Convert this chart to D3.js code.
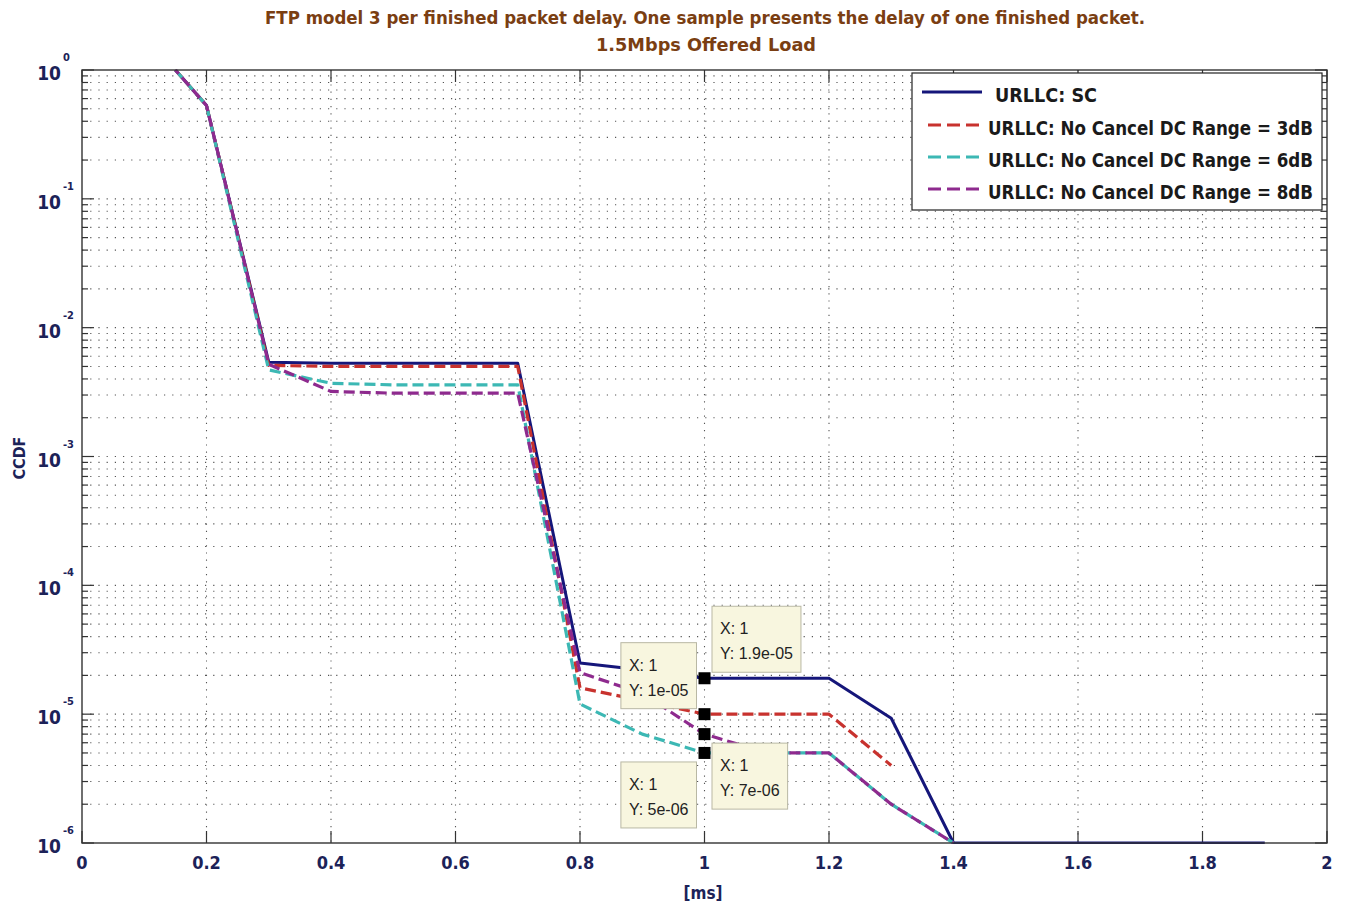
<!DOCTYPE html>
<html>
<head>
<meta charset="utf-8">
<script src="https://cdn.jsdelivr.net/npm/d3@7"></script>
<style>
  html, body { margin: 0; padding: 0; background: #ffffff; }
  svg { display: block; }
  .bold { font-family: "Liberation Sans Narrow", "DejaVu Sans Condensed", "Liberation Sans", Arial, sans-serif; font-weight: bold; }
  .tip { font-family: "Liberation Sans", Arial, sans-serif; }
</style>
</head>
<body>
<svg id="chart" width="1345" height="905"></svg>
<script>
// Packet delay [ms] sample points for each curve
const delaySC  = [0.15, 0.2, 0.3, 0.4, 0.5, 0.6, 0.7, 0.8, 0.9, 1.0, 1.1, 1.2, 1.3, 1.4, 1.5, 1.6, 1.7, 1.8, 1.9];
const delay3dB = [0.15, 0.2, 0.3, 0.4, 0.5, 0.6, 0.7, 0.8, 0.9, 1.0, 1.1, 1.2, 1.3];
const delay6dB = [0.15, 0.2, 0.3, 0.4, 0.5, 0.6, 0.7, 0.8, 0.9, 1.0, 1.1, 1.2, 1.3, 1.4];
const delay8dB = [0.15, 0.2, 0.3, 0.4, 0.5, 0.6, 0.7, 0.8, 0.9, 1.0, 1.1, 1.2, 1.3, 1.4];

// CCDF values
const ccdfSC  = [1, 0.53, 5.4e-3, 5.3e-3, 5.3e-3, 5.3e-3, 5.3e-3, 2.5e-5, 2.2e-5, 1.9e-5, 1.9e-5, 1.9e-5, 9.3e-6, 1e-6, 1e-6, 1e-6, 1e-6, 1e-6, 1e-6];
const ccdf3dB = [1, 0.53, 5.1e-3, 5.0e-3, 5.0e-3, 5.0e-3, 5.0e-3, 1.6e-5, 1.27e-5, 1e-5, 1e-5, 1e-5, 4e-6];
const ccdf6dB = [1, 0.53, 4.7e-3, 3.7e-3, 3.6e-3, 3.6e-3, 3.6e-3, 1.2e-5, 7e-6, 5e-6, 5e-6, 5e-6, 2e-6, 1e-6];
const ccdf8dB = [1, 0.53, 5.2e-3, 3.2e-3, 3.1e-3, 3.1e-3, 3.1e-3, 2.1e-5, 1.45e-5, 7e-6, 5e-6, 5e-6, 2e-6, 1e-6];

const seriesNames = ["URLLC: SC", "URLLC: No Cancel DC Range = 3dB", "URLLC: No Cancel DC Range = 6dB", "URLLC: No Cancel DC Range = 8dB"];

// Axis tick values
const xTicks = [0, 0.2, 0.4, 0.6, 0.8, 1, 1.2, 1.4, 1.6, 1.8, 2];
const yDecades = [0, -1, -2, -3, -4, -5, -6];

// Data cursors
const tipX = [1, 1, 1, 1];
const tipY = [1.9e-5, 1e-5, 7e-6, 5e-6];

const titleLines = ["FTP model 3 per finished packet delay. One sample presents the delay of one finished packet.", "1.5Mbps Offered Load"];
const xLabel = "[ms]";
const yLabel = "CCDF";

// ---- layout ----
const plot = { left: 82, right: 1327, top: 70, bottom: 843 };
const svg = d3.select("#chart");

const x = d3.scaleLinear().domain([0, 2]).range([plot.left, plot.right]);
const y = d3.scaleLog().domain([1e-6, 1]).range([plot.bottom, plot.top]);

const axisColor = "#1c2258";
const gridColor = "#555";

// minor log values
const minorVals = [];
yDecades.forEach(d => {
  if (d === 0) return;
  for (let k = 2; k <= 9; k++) minorVals.push(k * Math.pow(10, d));
});

// ---- grid ----
const grid = svg.append("g");
grid.selectAll(".vg").data(xTicks.filter(t => t > 0 && t < 2)).join("line")
  .attr("x1", d => x(d)).attr("x2", d => x(d))
  .attr("y1", plot.top).attr("y2", plot.bottom)
  .attr("stroke", gridColor).attr("stroke-width", 1.1).attr("stroke-dasharray", "1.2,6");
grid.selectAll(".hg").data(minorVals.concat(yDecades.filter(d => d > -6 && d < 0).map(d => Math.pow(10, d)))).join("line")
  .attr("x1", plot.left).attr("x2", plot.right)
  .attr("y1", d => y(d)).attr("y2", d => y(d))
  .attr("stroke", gridColor).attr("stroke-width", 1.1).attr("stroke-dasharray", "1.2,7");

// ---- ticks ----
const ticks = svg.append("g").attr("stroke", "#333").attr("stroke-width", 1.2);
xTicks.forEach(t => {
  ticks.append("line").attr("x1", x(t)).attr("x2", x(t)).attr("y1", plot.bottom).attr("y2", plot.bottom - 12);
  ticks.append("line").attr("x1", x(t)).attr("x2", x(t)).attr("y1", plot.top).attr("y2", plot.top + 12);
});
yDecades.forEach(d => {
  const yy = y(Math.pow(10, d));
  ticks.append("line").attr("x1", plot.left).attr("x2", plot.left + 12).attr("y1", yy).attr("y2", yy);
  ticks.append("line").attr("x1", plot.right).attr("x2", plot.right - 12).attr("y1", yy).attr("y2", yy);
});
minorVals.forEach(v => {
  const yy = y(v);
  ticks.append("line").attr("x1", plot.left).attr("x2", plot.left + 6).attr("y1", yy).attr("y2", yy);
  ticks.append("line").attr("x1", plot.right).attr("x2", plot.right - 6).attr("y1", yy).attr("y2", yy);
});

// ---- tick labels ----
const fmtX = d3.format("");
svg.append("g").selectAll("text").data(xTicks).join("text")
  .attr("class", "bold")
  .attr("x", d => x(d)).attr("y", 869)
  .attr("text-anchor", "middle")
  .attr("font-size", 18).attr("fill", axisColor)
  .text(d => fmtX(d));

const yl = svg.append("g");
yDecades.forEach(d => {
  const yy = y(Math.pow(10, d));
  yl.append("text").attr("class", "bold")
    .attr("x", 61).attr("y", yy + 10)
    .attr("text-anchor", "end").attr("font-size", 19).attr("fill", axisColor)
    .text("10");
  yl.append("text").attr("class", "bold")
    .attr("x", 63).attr("y", yy - 9)
    .attr("text-anchor", "start").attr("font-size", 11).attr("fill", axisColor)
    .text(d === 0 ? "0" : String(d));
});

// ---- axis labels & title ----
svg.append("text").attr("class", "bold")
  .attr("transform", "translate(25,458) rotate(-90)")
  .attr("text-anchor", "middle").attr("font-size", 16).attr("fill", axisColor)
  .text(yLabel);
svg.append("text").attr("class", "bold")
  .attr("x", 703).attr("y", 899)
  .attr("text-anchor", "middle").attr("font-size", 17).attr("fill", axisColor)
  .text(xLabel);

const titleColor = "#7a3e12";
svg.append("text").attr("class", "bold")
  .attr("x", 705).attr("y", 24).attr("text-anchor", "middle")
  .attr("font-size", 17).attr("fill", titleColor)
  .attr("textLength", 880).attr("lengthAdjust", "spacingAndGlyphs")
  .text(titleLines[0]);
svg.append("text").attr("class", "bold")
  .attr("x", 706).attr("y", 51).attr("text-anchor", "middle")
  .attr("font-size", 17).attr("fill", titleColor)
  .attr("textLength", 220).attr("lengthAdjust", "spacingAndGlyphs")
  .text(titleLines[1]);

// ---- curves ----
svg.append("clipPath").attr("id", "plotClip").append("rect")
  .attr("x", plot.left).attr("y", plot.top - 1)
  .attr("width", plot.right - plot.left).attr("height", plot.bottom - plot.top + 2);

const series = [
  { name: seriesNames[0], xs: delaySC,  ys: ccdfSC,  color: "#15167a", dash: null,   offset: 0, width: 3 },
  { name: seriesNames[1], xs: delay3dB, ys: ccdf3dB, color: "#c8322e", dash: "11,5", offset: 0, width: 3.2 },
  { name: seriesNames[2], xs: delay6dB, ys: ccdf6dB, color: "#3cb8b4", dash: "11,5", offset: 0, width: 3.2 },
  { name: seriesNames[3], xs: delay8dB, ys: ccdf8dB, color: "#8e2a8e", dash: "11,5", offset: 6, width: 3.2 }
];

const line = d3.line().x(d => x(d[0])).y(d => y(d[1]));
const curves = svg.append("g").attr("clip-path", "url(#plotClip)");
series.forEach(s => {
  const pts = s.xs.map((v, i) => [v, s.ys[i]]);
  curves.append("path").datum(pts)
    .attr("d", line)
    .attr("fill", "none")
    .attr("stroke", s.color)
    .attr("stroke-width", s.width)
    .attr("stroke-linejoin", "round")
    .attr("stroke-dasharray", s.dash)
    .attr("stroke-dashoffset", s.offset);
});

// ---- frame ----
svg.append("rect")
  .attr("x", plot.left).attr("y", plot.top)
  .attr("width", plot.right - plot.left).attr("height", plot.bottom - plot.top)
  .attr("fill", "none").attr("stroke", "#333").attr("stroke-width", 1.4);

// ---- data cursors ----
const tipPlacement = [
  { dx: 7.5,   dy: -72 },
  { dx: -87.5, dy: -71.5 },
  { dx: 7.5,   dy: 9 },
  { dx: -87.5, dy: 9 }
];
const tips = svg.append("g");
tipX.forEach((tx, i) => {
  const px = x(tx), py = y(tipY[i]);
  const p = tipPlacement[i];
  const g = tips.append("g");
  const box = g.append("rect")
    .attr("x", px + p.dx).attr("y", py + p.dy)
    .attr("height", 66)
    .attr("fill", "#f8f6df").attr("stroke", "#b9b8a4").attr("stroke-width", 1);
  const fmtY = d3.format(".1e");
  let label = fmtY(tipY[i]).replace(/e([+-])(\d)$/, "e$10$2");
  label = label.replace(/^(\d)\.0e/, "$1e");
  const t1 = g.append("text").attr("class", "tip")
    .attr("x", px + p.dx + 8).attr("y", py + p.dy + 28)
    .attr("font-size", 16).attr("fill", "#222").text("X: " + tx);
  const t2 = g.append("text").attr("class", "tip")
    .attr("x", px + p.dx + 8).attr("y", py + p.dy + 53)
    .attr("font-size", 16).attr("fill", "#222").text("Y: " + label);
  const w = Math.max(t1.node().getComputedTextLength(), t2.node().getComputedTextLength()) + 16;
  box.attr("width", w);
  if (p.dx < 0) {
    box.attr("x", px - 8.5 - w + 0.5);
    t1.attr("x", px - 8 - w + 8);
    t2.attr("x", px - 8 - w + 8);
  }
  g.append("rect")
    .attr("x", px - 6).attr("y", py - 6).attr("width", 12).attr("height", 12)
    .attr("fill", "#000");
});

// ---- legend ----
const legend = svg.append("g");
legend.append("rect")
  .attr("x", 912).attr("y", 73).attr("width", 410).attr("height", 137)
  .attr("fill", "#fff").attr("stroke", "#222").attr("stroke-width", 1.2);
const rowY = [92, 125, 157, 189];
series.forEach((s, i) => {
  const x0 = s.dash ? 928 : 922;
  legend.append("line")
    .attr("x1", x0).attr("x2", 982).attr("y1", rowY[i]).attr("y2", rowY[i])
    .attr("stroke", s.color).attr("stroke-width", 3)
    .attr("stroke-dasharray", s.dash ? "13,6" : null);
  const tx = legend.append("text").attr("class", "bold")
    .attr("x", s.dash ? 988 : 995).attr("y", rowY[i] + 10)
    .attr("font-size", 19).attr("fill", "#1a1a1a")
    .text(s.name);
  tx.attr("textLength", s.dash ? 325 : 102).attr("lengthAdjust", "spacingAndGlyphs");
});
</script>
</body>
</html>
